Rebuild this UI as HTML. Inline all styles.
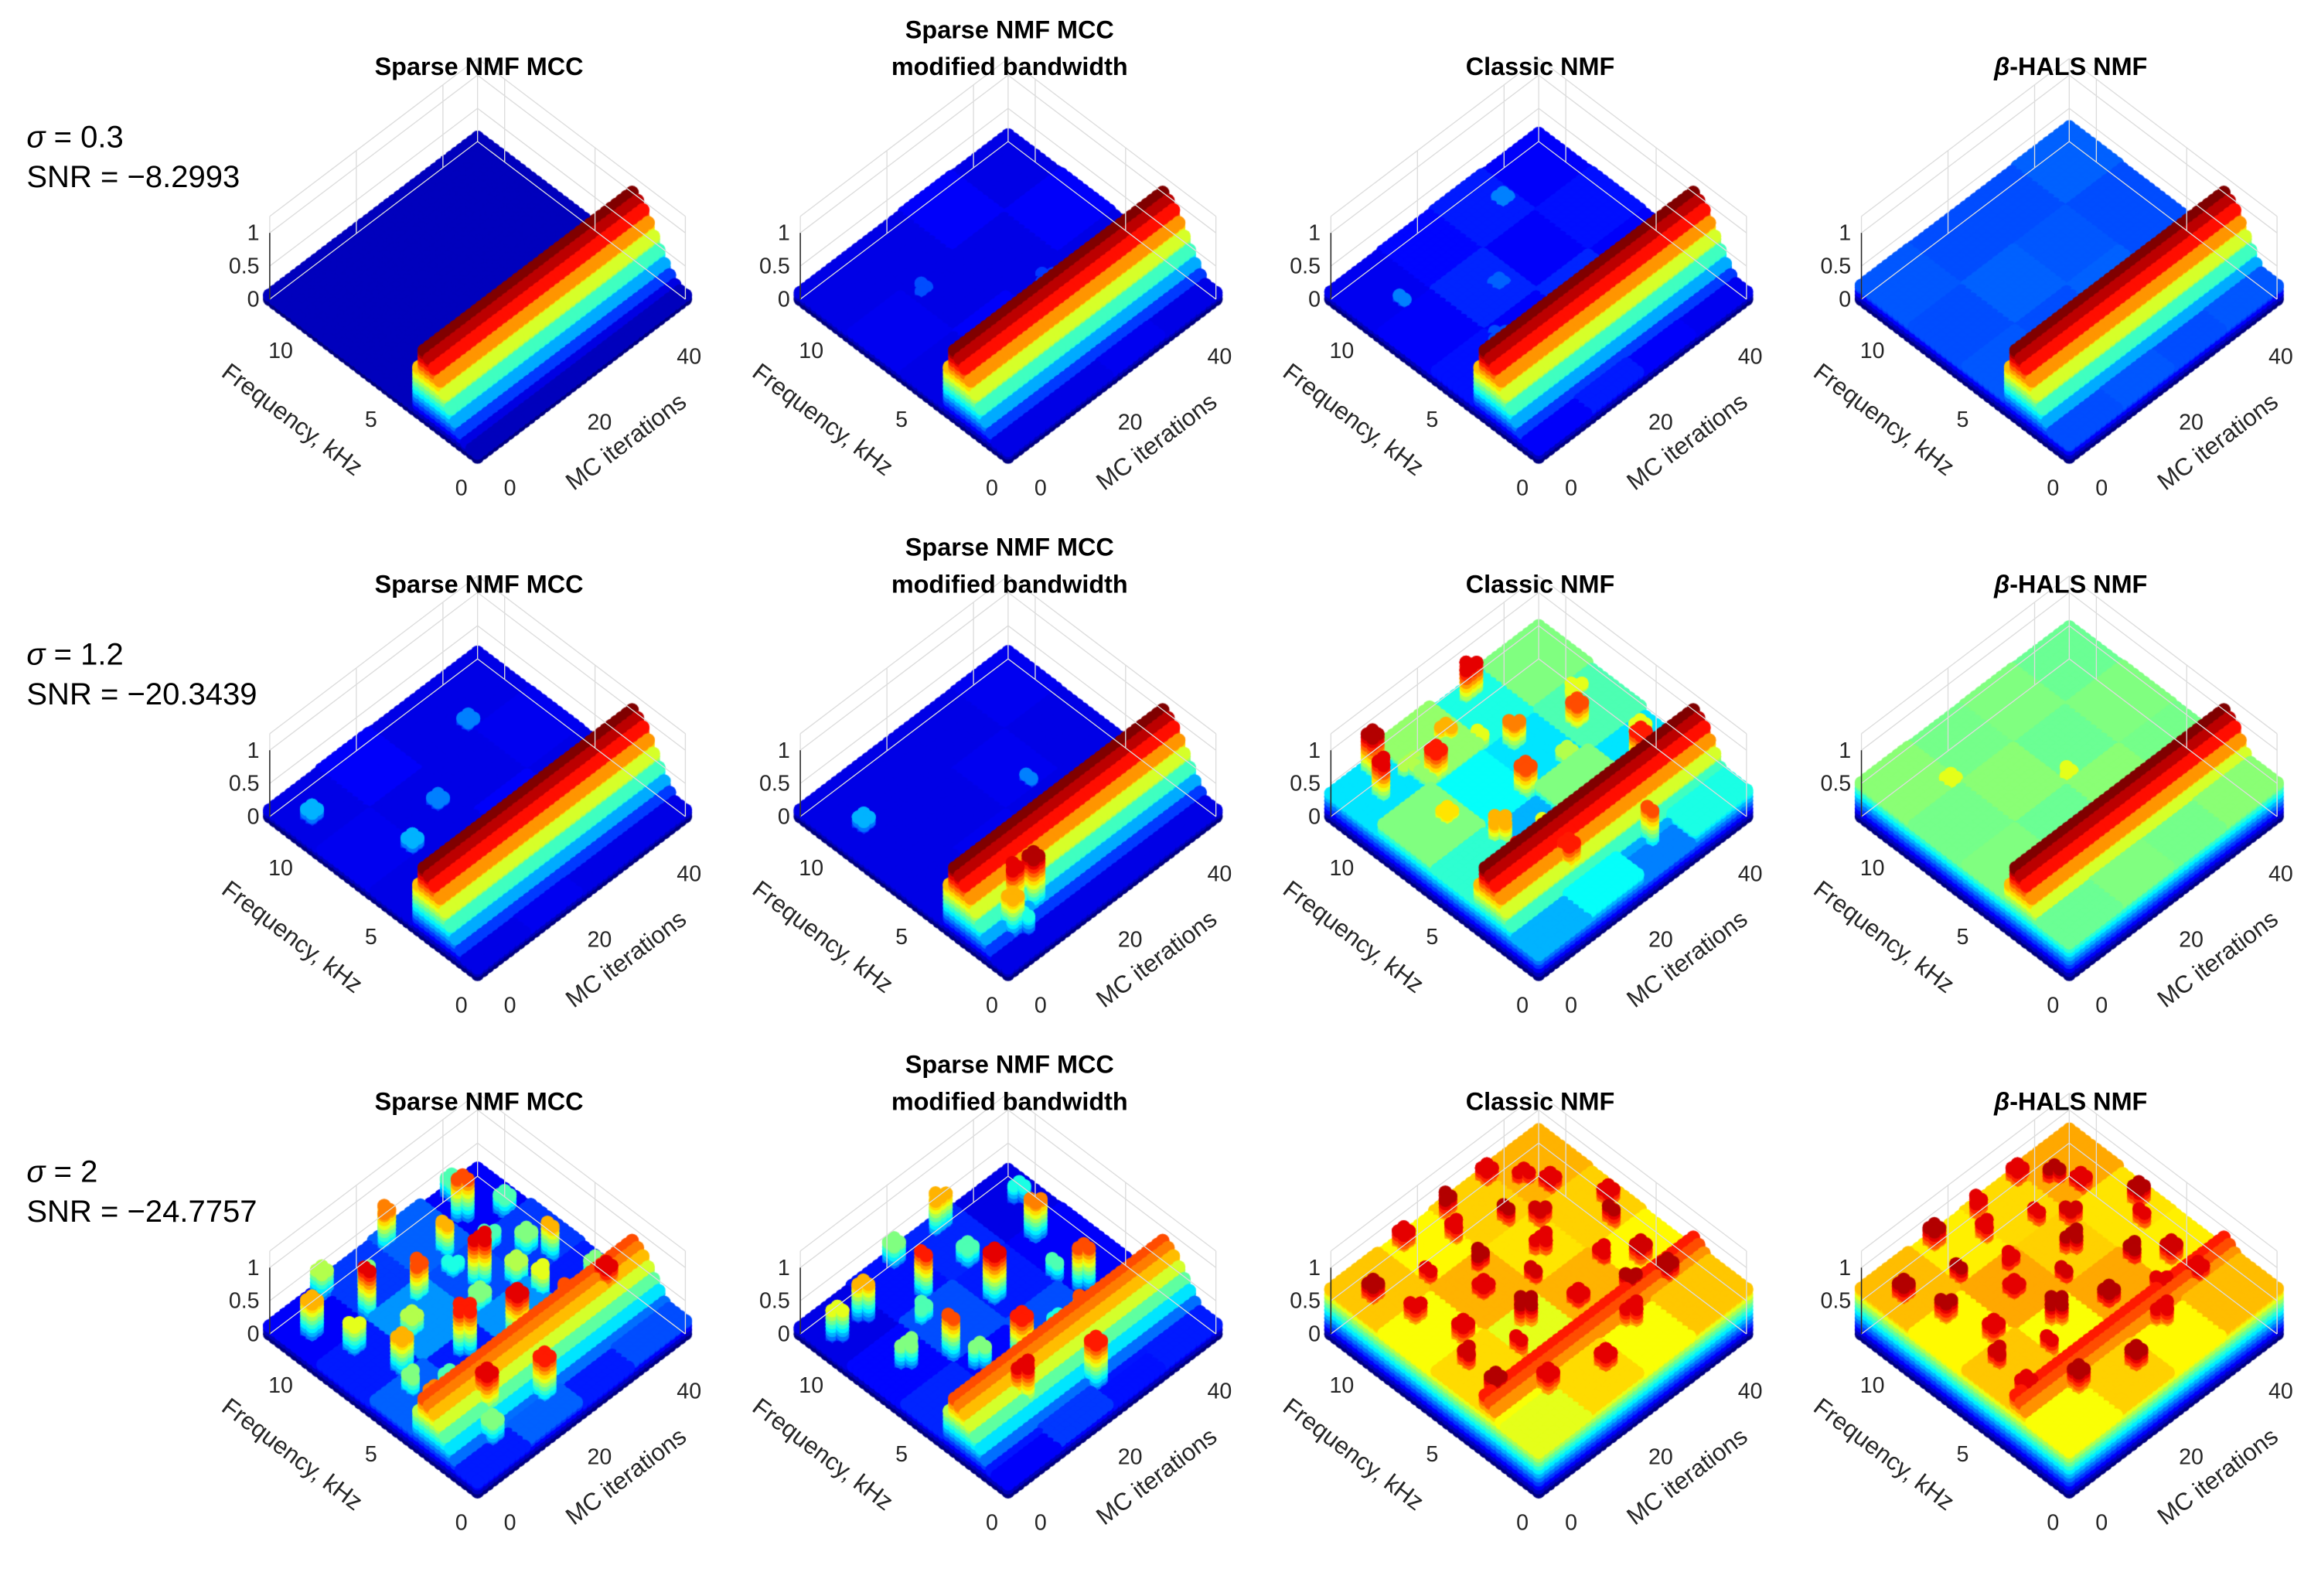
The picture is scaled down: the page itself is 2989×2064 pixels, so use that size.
<!DOCTYPE html>
<html><head><meta charset="utf-8">
<style>
html,body{margin:0;padding:0;background:#fff;}
#wrap{position:relative;width:2989px;height:2064px;overflow:hidden;}
canvas,svg{position:absolute;left:0;top:0;}
text{font-family:"Liberation Sans",Arial,sans-serif;}
</style></head>
<body>
<div id="wrap">
<canvas id="cv" width="2989" height="2064"></canvas>
<svg id="sv" width="2989" height="2064" viewBox="0 0 1568 1082.8"></svg>
</div>
<script>
// ---- data ----
const titles = [["Sparse NMF MCC"],["Sparse NMF MCC","modified bandwidth"],["Classic NMF"],["β-HALS NMF"]];
const sigmaLabels = ["0.3","1.2","2"];
const snrLabels = ["−8.2993","−20.3439","−24.7757"];
const freqTicks = [0,5,10];
const mcTicks = [0,20,40];
const zTicks = [0,0.5,1];
const ridgeF = [0,0.4,0.8,1.2,1.6,2.0,2.4,2.9,3.15,3.45];
const ridgeZ = [0,0.05,0.15,0.3,0.5,0.7,0.88,1,1,0];
const ridgeAmp = [[1,1,1,1],[1,1,1,1],[0.8,0.8,0.85,0.85]];
const levels = [
 [[[0.06,0.06,0.06,0.06],[0.06,0.06,0.06,0.06],[0.06,0.06,0.06,0.06],[0.06,0.06,0.06,0.06]],
  [[0.1,0.1,0.11,0.1],[0.1,0.12,0.1,0.1],[0.11,0.1,0.1,0.12],[0.1,0.1,0.12,0.1]],
  [[0.12,0.15,0.12,0.11],[0.14,0.12,0.16,0.12],[0.12,0.16,0.12,0.14],[0.11,0.13,0.15,0.12]],
  [[0.2,0.21,0.2,0.21],[0.21,0.2,0.22,0.2],[0.2,0.22,0.21,0.2],[0.21,0.2,0.2,0.22]]],
 [[[0.1,0.11,0.1,0.1],[0.1,0.1,0.12,0.1],[0.11,0.1,0.1,0.11],[0.1,0.12,0.1,0.1]],
  [[0.1,0.1,0.1,0.1],[0.1,0.11,0.1,0.1],[0.1,0.1,0.11,0.1],[0.1,0.1,0.1,0.11]],
  [[0.3,0.38,0.25,0.4],[0.42,0.3,0.5,0.35],[0.5,0.38,0.35,0.45],[0.35,0.52,0.4,0.5]],
  [[0.48,0.5,0.49,0.51],[0.5,0.48,0.51,0.49],[0.49,0.51,0.48,0.5],[0.51,0.49,0.5,0.48]]],
 [[[0.15,0.22,0.15,0.2],[0.22,0.15,0.27,0.15],[0.15,0.27,0.2,0.18],[0.12,0.18,0.22,0.12]],
  [[0.12,0.18,0.14,0.15],[0.16,0.13,0.2,0.12],[0.13,0.2,0.15,0.12],[0.1,0.14,0.16,0.1]],
  [[0.6,0.66,0.62,0.68],[0.66,0.6,0.7,0.63],[0.62,0.7,0.65,0.67],[0.68,0.63,0.67,0.7]],
  [[0.62,0.67,0.63,0.69],[0.68,0.62,0.71,0.64],[0.63,0.71,0.67,0.65],[0.69,0.64,0.66,0.71]]]
];
const spikes = [
 [[],[[8,14,0.2],[5,30,0.18]],[[9,6,0.25],[7,20,0.22],[10,33,0.25],[5,12,0.2]],[]],
 [[[10,3,0.3],[7,20,0.25],[4,30,0.35],[9,35,0.25],[6,10,0.3]],
  [[1.5,8,0.9],[1,5,0.7],[1.3,11,0.95],[0.8,7,0.4],[9,4,0.3],[6,30,0.25]],
  [[10,5,0.9],[9,14,0.85],[6,22,0.8],[3,8,0.9],[2,15,0.85],[11,30,0.9],[7,38,0.8],[4,40,0.85],[8,28,0.75],[5,12,0.7],[1,30,0.8],[11,8,0.95],[10,20,0.7],
   [9,24,0.6],[7,8,0.65],[4,18,0.6],[8,42,0.6],[6,32,0.55],[3,26,0.6],[10,12,0.55],[5,44,0.6],[2,36,0.55]],
  [[9,10,0.6],[6,25,0.6]]],
 [[[10,3,0.7],[9,12,0.9],[8,20,0.8],[7,30,0.9],[6,8,0.7],[5,18,0.85],[4,26,0.9],[3,34,0.8],[2,10,0.9],[11,25,0.75],[10,38,0.8],[6,42,0.7],[1,20,0.85],[2.5,40,0.9],[8,5,0.6],[3,3,0.75],[5,35,0.6],[9,30,0.7],
   [10,16,0.5],[8,36,0.45],[7,14,0.55],[6,26,0.5],[4,10,0.45],[3,20,0.5],[9,44,0.45],[5,5,0.5],[11,10,0.55],[7,40,0.5],[2,28,0.45],[1,8,0.5],[6,34,0.55],[4,44,0.5],[11,40,0.45],[8,28,0.4]],
  [[10,8,0.7],[9,18,0.85],[7,26,0.9],[6,12,0.8],[4,20,0.85],[3,30,0.8],[11,30,0.7],[8,40,0.75],[2,12,0.9],[5,38,0.8],[1,25,0.85],[10,2,0.6],
   [9,28,0.45],[7,6,0.5],[6,36,0.45],[5,14,0.5],[4,28,0.4],[8,14,0.45],[11,20,0.5],[3,42,0.45],[10,44,0.4]],
  [[10,3,0.95],[9,12,0.9],[8,20,0.95],[7,30,0.9],[6,8,0.9],[5,18,0.95],[4,26,0.9],[3,34,0.95],[2,10,0.9],[11,25,0.95],[10,38,0.9],[6,42,0.95],[1,20,0.9],[2.5,40,0.95],[8,5,0.9],[3,3,0.95],[5,35,0.9],[9,30,0.95],[11,15,0.9],[7,45,0.9],
   [10,22,0.9],[8,34,0.92],[7,16,0.9],[6,24,0.92],[4,12,0.9],[9,40,0.9],[5,4,0.92],[11,34,0.9],[2,30,0.9],[4,40,0.92]],
  [[10,3,0.95],[9,12,0.95],[8,20,0.9],[7,30,0.95],[6,8,0.9],[5,18,0.95],[4,26,0.95],[3,34,0.9],[2,10,0.95],[11,25,0.9],[10,38,0.95],[6,42,0.9],[1,20,0.95],[2.5,40,0.9],[8,5,0.95],[3,3,0.9],[5,35,0.95],[9,30,0.9],[11,15,0.95],[7,45,0.95],
   [10,22,0.9],[8,34,0.92],[7,16,0.9],[6,24,0.92],[4,12,0.9],[9,40,0.9],[5,4,0.92],[11,34,0.9],[2,30,0.9],[4,40,0.92]]]
];
// ---- geometry ----
const FMAX=11.5, MMAX=48, ZS=45;
function proj(r,c,f,m,z){
  return [324+c*360-141*(f/FMAX)+141*(m/MMAX), 310+r*351-107*(f/FMAX)-107*(m/MMAX)-ZS*z];
}
function jet(v){
  v=Math.max(0,Math.min(1,v));
  const cl=x=>Math.max(0,Math.min(1,x));
  const r=cl(1.5-Math.abs(4*v-3)), g=cl(1.5-Math.abs(4*v-2)), b=cl(1.5-Math.abs(4*v-1));
  return `rgb(${Math.round(r*255)},${Math.round(g*255)},${Math.round(b*255)})`;
}
function interp(xs,ys,x){
  if(x<=xs[0])return ys[0]; if(x>=xs[xs.length-1])return ys[ys.length-1];
  for(let i=1;i<xs.length;i++){ if(x<=xs[i]){const t=(x-xs[i-1])/(xs[i]-xs[i-1]);return ys[i-1]+t*(ys[i]-ys[i-1]);}}
}
const cv=document.getElementById('cv'), ctx=cv.getContext('2d');
const S=2989/1568; ctx.scale(S,S);
const sv=document.getElementById('sv'), NS='http://www.w3.org/2000/svg';
function el(tag,attrs,txt){const e=document.createElementNS(NS,tag);for(const k in attrs)e.setAttribute(k,attrs[k]);if(txt!==undefined)e.textContent=txt;sv.appendChild(e);return e;}

for(let r=0;r<3;r++){for(let c=0;c<4;c++){
  const zTop=1.25;
  const wall=[[FMAX,0],[FMAX,MMAX],[0,MMAX]];
  const gl=(a,b)=>{const l=el('line',{x1:a[0],y1:a[1],x2:b[0],y2:b[1],stroke:'#dcdcdc','stroke-width':0.7});
    
    };
  [0,0.5,1,zTop].forEach(z=>{gl(proj(r,c,FMAX,0,z),proj(r,c,FMAX,MMAX,z));gl(proj(r,c,FMAX,MMAX,z),proj(r,c,0,MMAX,z));});
  wall.forEach(p=>gl(proj(r,c,p[0],p[1],0),proj(r,c,p[0],p[1],zTop)));
  mcTicks.forEach(m=>{if(m>0)gl(proj(r,c,FMAX,m,0),proj(r,c,FMAX,m,zTop));});
  freqTicks.forEach(f=>{if(f>0)gl(proj(r,c,f,MMAX,0),proj(r,c,f,MMAX,zTop));});
  const lv=levels[r][c], sp=spikes[r][c], amp=ridgeAmp[r][c];
  const NF=39, NM=40, pts=[];
  for(let i=0;i<=NF;i++)for(let j=0;j<=NM;j++){
    const f=i*FMAX/NF, m=j*MMAX/NM;
    let z=lv[Math.min(3,Math.floor(f/FMAX*4))][Math.min(3,Math.floor(m/MMAX*4))];
    z=Math.max(z,amp*interp(ridgeF,ridgeZ,f));
    sp.forEach(s=>{const d=Math.hypot((s[0]-f)/(FMAX/NF),(s[1]-m)/(MMAX/NM));if(d<1.05)z=Math.max(z,s[2]);});
    pts.push([f,m,z]);
  }
  pts.sort((a,b)=>(b[0]/FMAX+b[1]/MMAX)-(a[0]/FMAX+a[1]/MMAX));
  pts.forEach(p=>{
    for(let h=0;h<=p[2]+1e-6;h+=0.06){
      const hh=Math.min(h,p[2]); const q=proj(r,c,p[0],p[1],hh);
      ctx.fillStyle=jet(hh);ctx.beginPath();ctx.arc(q[0],q[1],4.6,0,6.2832);ctx.fill();
    }
    const q=proj(r,c,p[0],p[1],p[2]);
    ctx.fillStyle=jet(p[2]);ctx.beginPath();ctx.arc(q[0],q[1],4.6,0,6.2832);ctx.fill();
  });
  const za=proj(r,c,FMAX,0,0), zb=proj(r,c,FMAX,0,1);
  const zl=el('line',{x1:za[0],y1:za[1],x2:zb[0],y2:zb[1],stroke:'#262626','stroke-width':0.8});
  
  
  zTicks.forEach(z=>{
    if(c===3&&r>0&&z===0)return;
    const q=proj(r,c,FMAX,0,z);
    const t=el('text',{x:q[0]-7,y:q[1]+5,'text-anchor':'end','font-size':15,fill:'#262626'},String(z));
    
    
  });
  freqTicks.forEach(f=>{
    const q=proj(r,c,f,0,0);
    const t=el('text',{x:q[0]-11,y:q[1]+26,'text-anchor':'middle','font-size':15,fill:'#262626'},String(f));
    
    
  });
  mcTicks.forEach(m=>{
    const q=proj(r,c,0,m,0);
    const t=el('text',{x:q[0]+22+m*0.1,y:q[1]+26,'text-anchor':'middle','font-size':15,fill:'#262626'},String(m));
    
    
  });
  const fx=195+c*360, fy=289+r*351;
  const fl=el('text',{x:fx,y:fy,'text-anchor':'middle','font-size':16.5,fill:'#262626',transform:`rotate(37 ${fx} ${fy})`},'Frequency, kHz');
  
  
  const mx=428+c*360, my=304+r*351;
  const ml=el('text',{x:mx,y:my,'text-anchor':'middle','font-size':16.5,fill:'#262626',transform:`rotate(-37 ${mx} ${my})`},'MC iterations');
  
  
  const tl=titles[c];
  tl.forEach((s,k)=>{
    const y=(tl.length===1?51:26+k*25)+r*351;
    const t=el('text',{x:325+c*360,y:y,'text-anchor':'middle','font-size':17,'font-weight':'bold',fill:'#000'});
    if(s.startsWith('β')){const a=document.createElementNS(NS,'tspan');a.setAttribute('font-style','italic');a.textContent='β';t.appendChild(a);t.appendChild(document.createTextNode(s.slice(1)));}
    else t.textContent=s;
    
    
  });
}}
for(let r=0;r<3;r++){
  const a=el('text',{x:18,y:100+r*351,'font-size':21,fill:'#000'});
  const s1=document.createElementNS(NS,'tspan');s1.setAttribute('font-style','italic');s1.textContent='σ';a.appendChild(s1);
  a.appendChild(document.createTextNode(' = '+sigmaLabels[r]));
  
  
  const b=el('text',{x:18,y:127+r*351,'font-size':21,fill:'#000'},'SNR = '+snrLabels[r]);
  
  
}
</script>
</body></html>
